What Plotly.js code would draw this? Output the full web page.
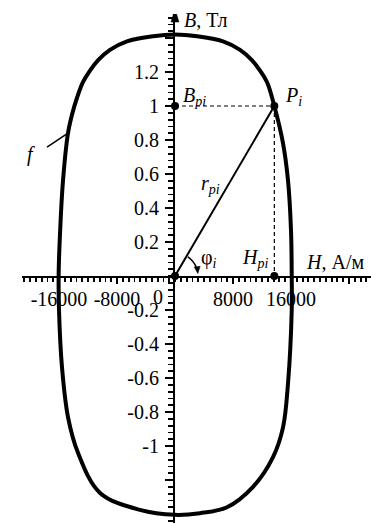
<!DOCTYPE html>
<html>
<head>
<meta charset="utf-8">
<script src="https://cdn.plot.ly/plotly-3.0.1.min.js"></script>
<style>html,body{margin:0;padding:0;background:#fff;}#chart{width:371px;height:523px;}</style>
</head>
<body>
<div id="chart"></div>
<script>
// Closed curve f (H in A/m, B in T), clockwise from the top
const curveH = [0, 3030, 6620, 8970, 10600, 11700, 12700, 13700, 14900, 15590, 16000, 16100, 16100, 15590, 14900, 13520, 10760, 7170, 3450, 0, -4830, -10340, -13380, -14760, -15590, -16000, -16050, -15900, -15450, -14760, -14200, -13500, -12700, -11700, -10600, -8970, -6620, -3030, 0];
const curveB = [1.42, 1.41, 1.38, 1.33, 1.27, 1.21, 1.14, 1.0, 0.78, 0.56, 0.27, 0, -0.2, -0.63, -0.89, -1.065, -1.24, -1.36, -1.395, -1.405, -1.376, -1.276, -1.04, -0.83, -0.535, -0.2, 0, 0.21, 0.56, 0.84, 0.95, 1.05, 1.14, 1.21, 1.27, 1.33, 1.38, 1.41, 1.42];

// Point P_i
const pH = 13700;
const pB = 1.0;

// Ticks
const xTickVals = [-16000, -8000, 8000, 16000, 24000];
const xTickText = ['-16000', '-8000', '8000', '16000', ''];
const xMinorStep = 800;
const yTickVals = [-1.4, -1.2, -1, -0.8, -0.6, -0.4, -0.2, 0.2, 0.4, 0.6, 0.8, 1, 1.2, 1.4];
const yTickText = ['', '', '-1', '-0.8', '-0.6', '-0.4', '-0.2', '0.2', '0.4', '0.6', '0.8', '1', '1.2', ''];
const yMinorStep = 0.04;

const W = 371, Hpx = 523;
const mL = 22, mT = 14;
const xRange = [-21103, 27034];
const yRange = [-1.4529, 1.5412];
const sx = (W - mL) / (xRange[1] - xRange[0]);   // px per A/m
const sy = (Hpx - mT) / (yRange[1] - yRange[0]); // px per T
const posX = (0 - xRange[0]) / (xRange[1] - xRange[0]);
const posY = (0 - yRange[0]) / (yRange[1] - yRange[0]);

const FONT = 'Liberation Serif, Times New Roman, serif';
const d = (px, py) => [px / sx, py / sy];

// phi arc
const R = 23;
const arcPts = [];
for (let a = 56; a >= 14; a -= 3) {
  const t = a * Math.PI / 180;
  arcPts.push(d(R * Math.cos(t), R * Math.sin(t)));
}
const arcPath = 'M ' + arcPts.map(p => p[0] + ',' + p[1]).join(' L ');
const tT = 6 * Math.PI / 180;
const tip = [R * Math.cos(tT), R * Math.sin(tT)];
const dir = [Math.sin(tT), -Math.cos(tT)];
const per = [Math.cos(tT), Math.sin(tT)];
const bc = [tip[0] - 7 * dir[0], tip[1] - 7 * dir[1]];
const ah = [d(tip[0], tip[1]), d(bc[0] + 3 * per[0], bc[1] + 3 * per[1]), d(bc[0] - 3 * per[0], bc[1] - 3 * per[1])];
const phiHead = 'M ' + ah.map(p => p[0] + ',' + p[1]).join(' L ') + ' Z';
// y axis arrowhead
const yTipPx = 276 - 9, yBasePx = 276 - 22;
const ya = [d(0, yTipPx), d(4, yBasePx), d(-4, yBasePx)];
const yHead = 'M ' + ya.map(p => p[0] + ',' + p[1]).join(' L ') + ' Z';

const traces = [
  {x: curveH, y: curveB, mode: 'lines', line: {color: '#000', width: 4, shape: 'spline', smoothing: 1}, hoverinfo: 'skip'},
  {x: [0, pH], y: [0, pB], mode: 'lines', line: {color: '#000', width: 2}},
  {x: [0, pH], y: [pB, pB], mode: 'lines', line: {color: '#000', width: 1.2, dash: '4px,3px'}},
  {x: [pH, pH], y: [pB, 0], mode: 'lines', line: {color: '#000', width: 1.2, dash: '4px,3px'}},
  {x: [0, pH, pH, 0], y: [pB, pB, 0, 0], mode: 'markers', marker: {color: '#000', size: 8}},
  // empty helper traces so that the axes can sit on the crossing lines
  {x: [null], y: [null], xaxis: 'x', yaxis: 'y2', mode: 'lines', hoverinfo: 'skip'},
  {x: [null], y: [null], xaxis: 'x2', yaxis: 'y', mode: 'lines', hoverinfo: 'skip'}
];

const tf = () => ({family: FONT, size: 20, color: '#000'});
const ann = (x, y, text, xa, ya_) => ({x: x, y: y, xref: 'x', yref: 'y', text: text, showarrow: false, xanchor: xa || 'left', yanchor: ya_ || 'middle', font: tf()});

const layout = {
  width: W, height: Hpx,
  margin: {l: mL, r: 0, t: mT, b: 0, pad: 0},
  paper_bgcolor: '#fff', plot_bgcolor: 'rgba(0,0,0,0)',
  font: {family: FONT, size: 20, color: '#000'},
  showlegend: false,
  xaxis: {
    domain: [0, 1], range: xRange, anchor: 'y2', side: 'bottom',
    showgrid: false, zeroline: false, showline: true, linecolor: '#000', linewidth: 2,
    tickmode: 'array', tickvals: xTickVals, ticktext: xTickText,
    ticks: 'outside', ticklen: 6, tickwidth: 2, tickcolor: '#000', ticklabelstandoff: -2,
    tickfont: tf(),
    minor: {tickmode: 'linear', tick0: 0, dtick: xMinorStep, ticks: 'outside', ticklen: 4, tickwidth: 1.8, tickcolor: '#000'}
  },
  yaxis: {
    domain: [0, 1], range: yRange, anchor: 'x2', side: 'left',
    showgrid: false, zeroline: false, showline: true, linecolor: '#000', linewidth: 2,
    tickmode: 'array', tickvals: yTickVals, ticktext: yTickText,
    ticks: 'outside', ticklen: 8, tickwidth: 2, tickcolor: '#000', ticklabelstandoff: 2,
    tickfont: tf(),
    minor: {tickmode: 'linear', tick0: 0, dtick: yMinorStep, ticks: 'outside', ticklen: 5, tickwidth: 1.8, tickcolor: '#000'}
  },
  xaxis2: {domain: [posX, 1], range: [0, 1], anchor: 'y', showgrid: false, zeroline: false, showline: false, showticklabels: false, ticks: ''},
  yaxis2: {domain: [posY, 1], range: [0, 1], anchor: 'x', showgrid: false, zeroline: false, showline: false, showticklabels: false, ticks: ''},
  shapes: [
    {type: 'path', xref: 'x', yref: 'y', path: arcPath, line: {color: '#000', width: 1.5}},
    {type: 'path', xref: 'x', yref: 'y', path: phiHead, fillcolor: '#000', line: {color: '#000', width: 0.5}},
    {type: 'path', xref: 'x', yref: 'y', path: yHead, fillcolor: '#000', line: {color: '#000', width: 0.5}},
    {type: 'line', xref: 'x', yref: 'y', x0: d(-128, 0)[0], y0: d(0, 129)[1], x1: d(-107, 0)[0], y1: d(0, 143)[1], line: {color: '#000', width: 1.5}}
  ],
  annotations: [
    ann(d(7, 0)[0], d(0, 256)[1], '<i>B</i>, Тл'),
    ann(d(129, 0)[0], d(0, 14)[1], '<i>H</i>, А/м'),
    ann(d(6, 0)[0], d(0, 180)[1], '<i>B</i><sub><i>pi</i></sub>'),
    ann(pH + d(9, 0)[0], d(0, 180)[1], '<i>P</i><sub><i>i</i></sub>'),
    ann(d(24, 0)[0], d(0, 92)[1], '<i>r</i><sub><i>pi</i></sub>'),
    ann(d(24, 0)[0], d(0, 18)[1], 'φ<sub><i>i</i></sub>'),
    ann(d(65, 0)[0], d(0, 18)[1], '<i>H</i><sub><i>pi</i></sub>'),
    ann(d(-144, 0)[0], d(0, 122)[1], '<i>f</i>', 'center'),
    ann(d(-17, 0)[0], d(0, -21)[1], '0', 'center')
  ]
};

Plotly.newPlot('chart', traces, layout, {staticPlot: true, displayModeBar: false});
</script>
</body>
</html>
